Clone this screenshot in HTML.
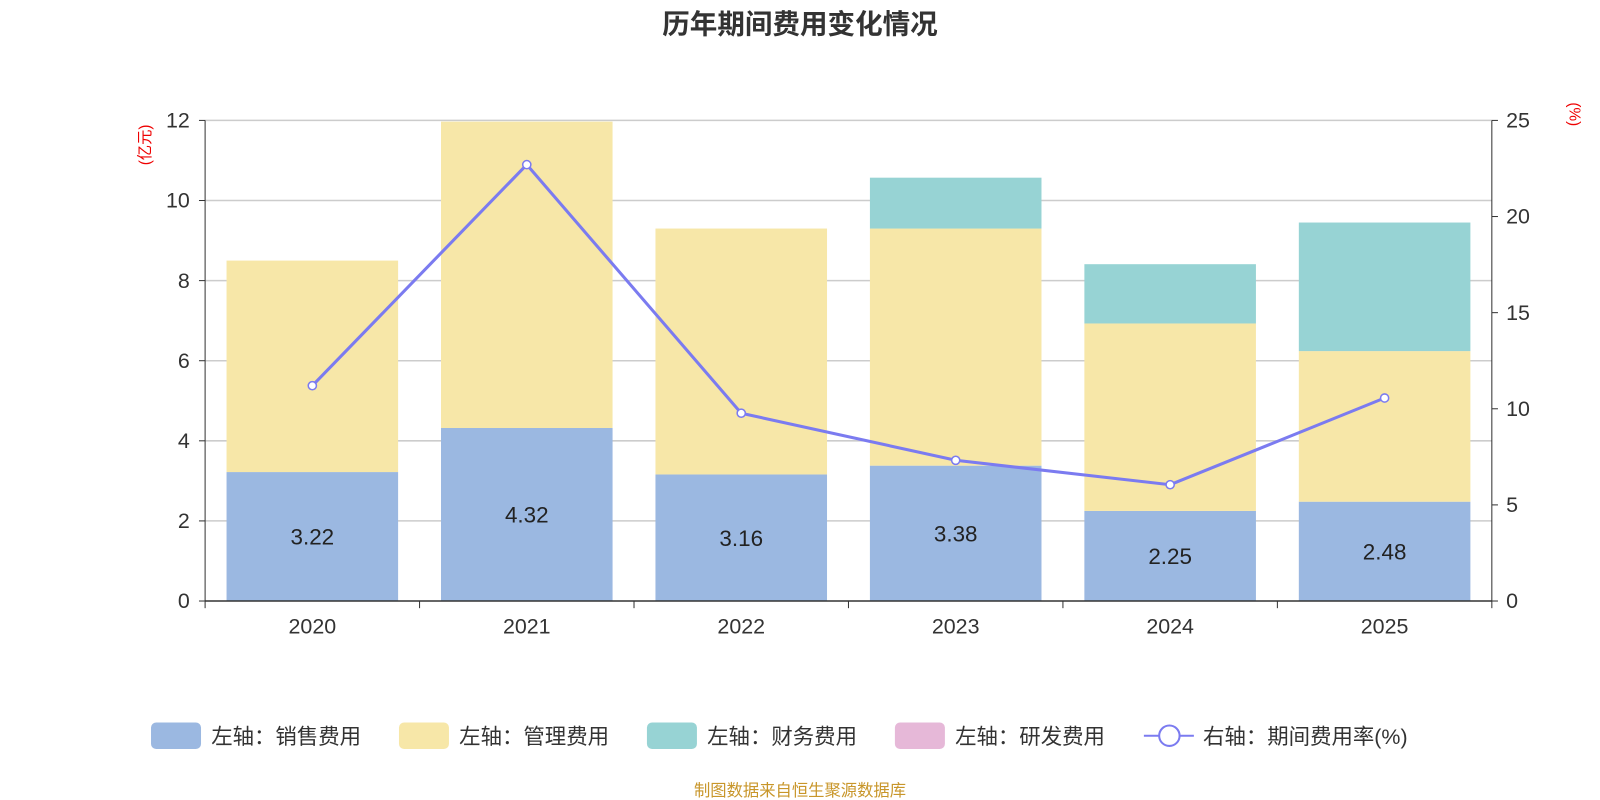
<!DOCTYPE html>
<html><head><meta charset="utf-8">
<style>
body{margin:0;background:#fff;font-family:"Liberation Sans","Noto Sans CJK SC",sans-serif;}
svg{display:block}
svg text{font-family:"Liberation Sans","Noto Sans CJK SC",sans-serif;}
</style></head>
<body>
<svg id="chart" width="1600" height="800" viewBox="0 0 1568 784" preserveAspectRatio="none" xmlns="http://www.w3.org/2000/svg">
<text x="784" y="33" text-anchor="middle" font-size="27" font-weight="bold" fill="#333">历年期间费用变化情况</text>
<text transform="translate(147,142) rotate(-90)" text-anchor="middle" font-size="15" fill="#e00">(亿元)</text>
<text transform="translate(1538,112) rotate(90)" text-anchor="middle" font-size="15" fill="#e00">(%)</text>
<g id="grid"></g><g id="bars"></g><g id="line"></g><g id="axes"></g>
<g font-size="21" fill="#333">
<g><rect x="148" y="708" width="49" height="26" rx="5" fill="#9bb8e1"/><text x="207" y="729">左轴：销售费用</text></g>
<g><rect x="391" y="708" width="49" height="26" rx="5" fill="#f7e7a8"/><text x="450" y="729">左轴：管理费用</text></g>
<g><rect x="634" y="708" width="49" height="26" rx="5" fill="#97d3d4"/><text x="693" y="729">左轴：财务费用</text></g>
<g><rect x="877" y="708" width="49" height="26" rx="5" fill="#e6b8d8"/><text x="936" y="729">左轴：研发费用</text></g>
<g><line x1="1121" y1="721" x2="1170" y2="721" stroke="#7b7bf0" stroke-width="2"/><circle cx="1146" cy="721" r="10" fill="#fff" stroke="#7b7bf0" stroke-width="2"/><text x="1179" y="729">右轴：期间费用率(%)</text></g>
</g>
<text x="784" y="780" text-anchor="middle" font-size="16" fill="#c8962a">制图数据来自恒生聚源数据库</text>
</svg>
<script>
const years=["2020","2021","2022","2023","2024","2025"];
const sales=[3.22,4.32,3.16,3.38,2.25,2.48];
const management=[5.28,7.65,6.14,5.92,4.68,3.76];
const finance=[0,0,0,1.27,1.48,3.21];
const rate=[11.2,22.7,9.77,7.32,6.05,10.56];
const leftTicks=[0,2,4,6,8,10,12];
const rightTicks=[0,5,10,15,20,25];
const NS="http://www.w3.org/2000/svg";
const X0=201,X1=1462,Y0=589,Y1=118;
const band=(X1-X0)/years.length;
const yL=v=>Y0-(v/12)*(Y0-Y1);
const yR=v=>Y0-(v/25)*(Y0-Y1);
const xC=i=>X0+band*(i+0.5);
function mk(tag,attrs,parent){const e=document.createElementNS(NS,tag);for(const k in attrs)e.setAttribute(k,attrs[k]);document.getElementById(parent).appendChild(e);return e;}
leftTicks.forEach(t=>{
 if(t>0){const g=mk('line',{x1:X0,x2:X1,y1:yL(t),y2:yL(t),stroke:'#ccc','stroke-width':1.5},'grid');
 
 }
 const l=mk('text',{x:186,y:yL(t)+7,'text-anchor':'end','font-size':21,fill:'#333'},'axes');l.textContent=t;
 
 
 mk('line',{x1:195,x2:X0,y1:yL(t),y2:yL(t),stroke:'#333'},'axes');
});
rightTicks.forEach(t=>{
 const l=mk('text',{x:1476,y:yR(t)+7,'font-size':21,fill:'#333'},'axes');l.textContent=t;
 
 
 mk('line',{x1:X1,x2:X1+6,y1:yR(t),y2:yR(t),stroke:'#333'},'axes');
});
mk('line',{x1:X0,x2:X0,y1:Y1,y2:Y0,stroke:'#333'},'axes');
mk('line',{x1:X1,x2:X1,y1:Y1,y2:Y0,stroke:'#333'},'axes');
mk('line',{x1:X0,x2:X1,y1:Y0,y2:Y0,stroke:'#333','stroke-width':1.5},'axes');
for(let i=0;i<=years.length;i++)mk('line',{x1:X0+band*i,x2:X0+band*i,y1:Y0,y2:Y0+7,stroke:'#333'},'axes');
const bw=band*0.8;
years.forEach((y,i)=>{
 const x=xC(i)-bw/2;
 const l=mk('text',{x:xC(i),y:621,'text-anchor':'middle','font-size':21,fill:'#333'},'axes');l.textContent=y;
 
 
 let base=0;
 [[sales,'#9bb8e1','sales'],[management,'#f7e7a8','management'],[finance,'#97d3d4','finance']].forEach(([arr,c,n])=>{
  const v=arr[i];if(v<=0)return;
  const top=Math.max(yL(base+v),Y1);
  const r=mk('rect',{x:x,width:bw,y:top,height:yL(base)-top,fill:c},'bars');
  
  
  base+=v;
 });
 const t=mk('text',{x:xC(i),y:(yL(sales[i])+Y0)/2+8,'text-anchor':'middle','font-size':22,fill:'#222'},'bars');
 t.textContent=sales[i].toFixed(2);
 
 
});
const pts=rate.map((v,i)=>xC(i)+','+yR(v)).join(' ');
const pl=mk('polyline',{points:pts,fill:'none',stroke:'#7b7bf0','stroke-width':3},'line');


rate.forEach((v,i)=>{
 const c=mk('circle',{cx:xC(i),cy:yR(v),r:4,fill:'#fff',stroke:'#7b7bf0','stroke-width':1.5},'line');
 
 
});
</script>
</body></html>
